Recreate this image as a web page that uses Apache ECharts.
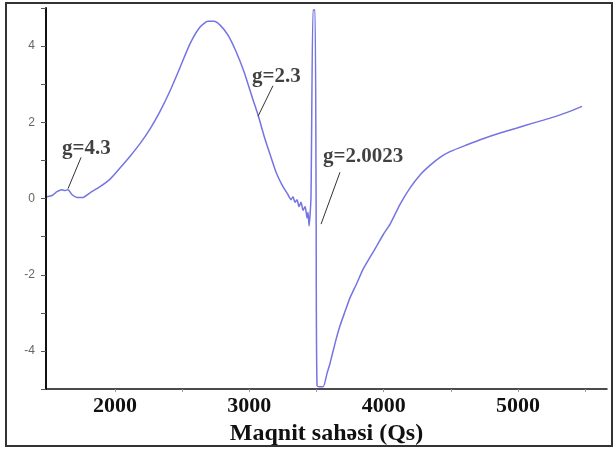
<!DOCTYPE html>
<html>
<head>
<meta charset="utf-8">
<script src="https://cdn.jsdelivr.net/npm/echarts@6/dist/echarts.min.js"></script>
<style>
  html, body { margin: 0; padding: 0; background: #fff; }
  #chart { width: 616px; height: 451px; }
</style>
</head>
<body>
<div id="chart"></div>
<script>
// magnetic field (Qs) and EPR signal
const fieldQs = [1494, 1531, 1568, 1605, 1628, 1650, 1680, 1717, 1762, 1814, 1888, 1963, 2037, 2112, 2186, 2261,
  2335, 2410, 2484, 2558, 2633, 2692, 2737, 2782, 2841, 2901, 2961, 3020, 3065, 3109, 3154, 3199, 3243, 3288,
  3311, 3325, 3340, 3355, 3370, 3385, 3400, 3415, 3430, 3437, 3445, 3459, 3474, 3489, 3497, 3504, 3549, 3579,
  3601, 3638, 3675, 3713, 3750, 3802, 3847, 3899, 3951, 3996, 4048, 4122, 4197, 4271, 4345, 4420, 4494, 4621,
  4740, 4867, 4993, 5112, 5239, 5366, 5477];
const signal = [0.05, 0.08, 0.18, 0.23, 0.21, 0.23, 0.10, 0.03, 0.03, 0.15, 0.31, 0.51, 0.80, 1.11, 1.44, 1.83,
  2.29, 2.83, 3.44, 4.06, 4.50, 4.65, 4.65, 4.55, 4.29, 3.86, 3.32, 2.67, 2.19, 1.65, 1.16, 0.69, 0.36, 0.10,
  -0.03, 0.05, -0.10, -0.03, -0.21, -0.10, -0.31, -0.21, -0.51, -0.36, -0.72, 0.05, 4.95, 4.95, 0.05, -4.91, -4.94, -4.58,
  -4.32, -3.80, -3.34, -2.96, -2.60, -2.21, -1.85, -1.54, -1.23, -0.95, -0.67, -0.15, 0.28, 0.62, 0.87, 1.08, 1.23, 1.41,
  1.57, 1.72, 1.85, 1.98, 2.11, 2.26, 2.42];

const xLabels = [2000, 3000, 4000, 5000];
const xTicks = [2000, 2500, 3000, 3500, 4000, 4500, 5000, 5500];

// g-factor notes: text, text anchor, leader line start/end
const noteText = ["g=4.3", "g=2.3", "g=2.0023"];
const noteAt = [[1605, 1.31], [3020, 3.21], [3549, 1.10]];
const leaderFrom = [[1747, 1.08], [3176, 2.96], [3675, 0.69]];
const leaderTo = [[1650, 0.26], [3065, 2.16], [3534, -0.67]];

const serif = "'Liberation Serif', 'Times New Roman', serif";

let myChart = echarts.init(document.getElementById("chart"));
let option = {
  animation: false,
  backgroundColor: "#fff",
  grid: { left: 46, right: 9, top: 8, bottom: 56 },
  xAxis: {
    type: "value",
    min: 1486,
    max: 5663,
    name: "Maqnit sahəsi (Qs)",
    nameLocation: "middle",
    nameGap: 27,
    nameTextStyle: { fontFamily: serif, fontWeight: "bold", fontSize: 24, color: "#111" },
    axisLine: { onZero: false, lineStyle: { color: "#111", width: 1.5 } },
    axisTick: { show: true, length: 3, customValues: xTicks, lineStyle: { color: "#999" } },
    axisLabel: {
      customValues: xLabels,
      margin: 6,
      fontFamily: serif,
      fontWeight: "bold",
      fontSize: 22,
      color: "#111",
      formatter: function (v) {
        return String(v);
      }
    },
    splitLine: { show: false }
  },
  yAxis: {
    type: "value",
    min: -5,
    max: 5,
    interval: 1,
    axisLine: { show: true, onZero: false, lineStyle: { color: "#111", width: 2 } },
    axisTick: { show: true, length: 5, lineStyle: { color: "#555" } },
    axisLabel: {
      margin: 11,
      fontFamily: "'Liberation Sans', Arial, sans-serif",
      fontSize: 12,
      color: "#666",
      formatter: function (v) {
        return v % 2 === 0 && Math.abs(v) < 5 ? String(v) : "";
      }
    },
    splitLine: { show: false }
  },
  series: [
    {
      type: "line",
      data: fieldQs.map((x, i) => [x, signal[i]]),
      showSymbol: false,
      smooth: 0.2,
      clip: true,
      lineStyle: { color: "#7474e2", width: 1.5 },
      markLine: {
        silent: true,
        symbol: "none",
        label: { show: false },
        lineStyle: { color: "#333", width: 1, type: "solid" },
        data: leaderFrom.map((p, i) => [{ coord: p }, { coord: leaderTo[i] }])
      }
    },
    {
      type: "scatter",
      symbolSize: 0,
      data: noteAt.map((p, i) => ({ name: noteText[i], value: p })),
      label: {
        show: true,
        position: "right",
        distance: 0,
        formatter: "{b}",
        fontFamily: serif,
        fontWeight: "bold",
        fontSize: 21,
        color: "#111"
      }
    }
  ],
  graphic: [
    {
      type: "rect",
      shape: { x: 6, y: 3, width: 606, height: 443 },
      style: { fill: "none", stroke: "#333", lineWidth: 2 }
    }
  ]
};
myChart.setOption(option);
</script>
</body>
</html>
